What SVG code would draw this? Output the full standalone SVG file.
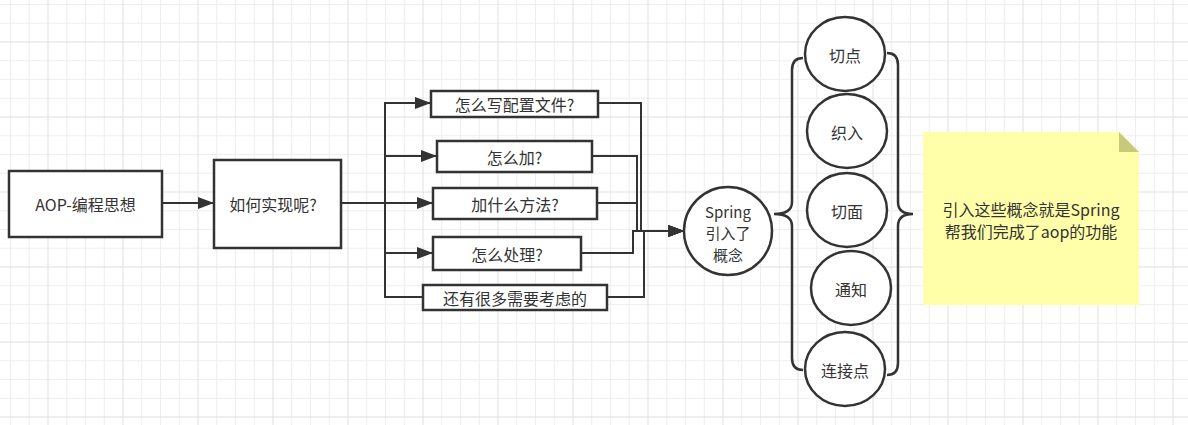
<svg xmlns="http://www.w3.org/2000/svg" width="1188" height="425" viewBox="0 0 1188 425">
<defs>
<pattern id="grid" patternUnits="userSpaceOnUse" x="10" y="4" width="75" height="75">
<rect x="0" y="0" width="1" height="75" fill="#eeeeee"/>
<rect x="18.75" y="0" width="1" height="75" fill="#eeeeee"/>
<rect x="56.25" y="0" width="1" height="75" fill="#eeeeee"/>
<rect x="0" y="0" width="75" height="1" fill="#eeeeee"/>
<rect x="0" y="18.75" width="75" height="1" fill="#eeeeee"/>
<rect x="0" y="56.25" width="75" height="1" fill="#eeeeee"/>
<rect x="37.5" y="0" width="1" height="75" fill="#e0e0e0"/>
<rect x="0" y="37.5" width="75" height="1" fill="#e0e0e0"/>
</pattern>
<marker id="arr" viewBox="0 0 16 12" refX="16" refY="6" markerWidth="16" markerHeight="12" markerUnits="userSpaceOnUse" orient="auto">
<path d="M0,0 L16,6 L0,12 Z" fill="#333333"/>
</marker>
</defs>
<style>
.box{fill:#ffffff;stroke:#333333;stroke-width:2.5}
.circ{fill:#ffffff;stroke:#333333;stroke-width:2.5}
.t{font-family:"Microsoft YaHei","Noto Sans CJK SC",sans-serif;font-size:16px;fill:#333333;text-anchor:middle;dominant-baseline:central}
.m{font-size:15px}
.e{fill:none;stroke:#333333;stroke-width:2}
.br{fill:none;stroke:#333333;stroke-width:2.5}
</style>
<rect width="1188" height="425" fill="#ffffff"/>
<rect width="1188" height="425" fill="url(#grid)"/>

<g id="connectors">
<path class="e" d="M162,203 H214" marker-end="url(#arr)"/>
<path class="e" d="M341,203 H385 V103 H431" marker-end="url(#arr)"/>
<path class="e" d="M341,203 H385 V156 H437" marker-end="url(#arr)"/>
<path class="e" d="M341,203 H433" marker-end="url(#arr)"/>
<path class="e" d="M341,203 H385 V253 H433" marker-end="url(#arr)"/>
<path class="e" d="M341,203 H385 V297 H423"/>
<path class="e" d="M598,103 H641 V231 H684" marker-end="url(#arr)"/>
<path class="e" d="M592,156 H637 V231 H684" marker-end="url(#arr)"/>
<path class="e" d="M597,203 H637 V231 H684" marker-end="url(#arr)"/>
<path class="e" d="M581,253 H633 V231 H684" marker-end="url(#arr)"/>
<path class="e" d="M607,297 H644 V231 H684" marker-end="url(#arr)"/>
</g>

<g id="n-aop">
<rect class="box" x="9" y="171" width="153" height="66"/>
<text class="t" x="85.5" y="204">AOP-编程思想</text>
</g>
<g id="n-how">
<rect class="box" x="214" y="160" width="127" height="88"/>
<text class="t" x="273" y="204">如何实现呢?</text>
</g>
<g id="n-config">
<rect class="box" x="431" y="91" width="167" height="26"/>
<text class="t" x="514.5" y="104">怎么写配置文件?</text>
</g>
<g id="n-add">
<rect class="box" x="437" y="141" width="155" height="31"/>
<text class="t" x="514.5" y="156.5">怎么加?</text>
</g>
<g id="n-method">
<rect class="box" x="433" y="188" width="164" height="31"/>
<text class="t" x="515" y="203.5">加什么方法?</text>
</g>
<g id="n-handle">
<rect class="box" x="433" y="237" width="148" height="33"/>
<text class="t" x="507" y="253.5">怎么处理?</text>
</g>
<g id="n-more">
<rect class="box" x="423" y="285" width="184" height="25"/>
<text class="t" x="515" y="297.5">还有很多需要考虑的</text>
</g>
<g id="n-spring">
<circle class="circ" cx="728" cy="231" r="44"/>
<text class="t m" x="728" y="211">Spring</text>
<text class="t m" x="728" y="232.5">引入了</text>
<text class="t m" x="728" y="254">概念</text>
</g>
<g id="n-brace-left">
<path class="br" d="M803,58 Q792,58 792,70 V202 Q792,214 774,214 Q792,214 792,226 V358 Q792,370 803,370"/>
</g>
<g id="n-pointcut">
<ellipse class="circ" cx="845" cy="54" rx="40" ry="37"/>
<text class="t" x="845" y="55">切点</text>
</g>
<g id="n-weave">
<ellipse class="circ" cx="847" cy="131" rx="40" ry="37"/>
<text class="t" x="847" y="132">织入</text>
</g>
<g id="n-aspect">
<ellipse class="circ" cx="847" cy="210" rx="40" ry="37"/>
<text class="t" x="847" y="211">切面</text>
</g>
<g id="n-advice">
<ellipse class="circ" cx="851" cy="288" rx="40" ry="37"/>
<text class="t" x="851" y="289">通知</text>
</g>
<g id="n-joinpoint">
<ellipse class="circ" cx="845" cy="369" rx="40" ry="37"/>
<text class="t" x="845" y="370">连接点</text>
</g>
<g id="n-brace-right">
<path class="br" d="M887,53 Q898,53 898,65 V202 Q898,214 913,214 Q898,214 898,226 V363 Q898,375 887,375"/>
</g>
<g id="n-note">
<path d="M923,132 H1119 L1139,152 V305 H923 Z" fill="#ffffaa"/>
<path d="M1119,132 L1139,152 H1119 Z" fill="#c9c97a"/>
<text class="t" x="1031" y="209">引入这些概念就是Spring</text>
<text class="t" x="1031" y="231">帮我们完成了aop的功能</text>
</g>
</svg>
